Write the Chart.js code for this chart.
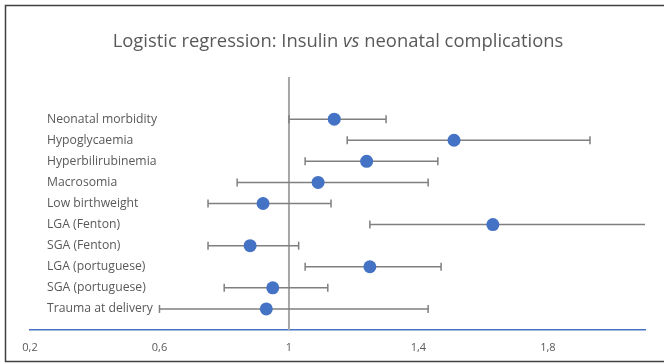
<!DOCTYPE html>
<html>
<head>
<meta charset="utf-8">
<script src="https://cdn.jsdelivr.net/npm/chart.js@4/dist/chart.umd.min.js"></script>
<style>
  html, body { margin: 0; padding: 0; background: #fff; }
  canvas { display: block; }
</style>
</head>
<body>
<canvas id="chart" width="664" height="363"></canvas>
<script>
// outcomes, top to bottom
const OUTCOMES = [
  "Neonatal morbidity", "Hypoglycaemia", "Hyperbilirubinemia", "Macrosomia",
  "Low birthweight", "LGA (Fenton)", "SGA (Fenton)", "LGA (portuguese)",
  "SGA (portuguese)", "Trauma at delivery",
];
const ROW_Y     = [10, 9, 8, 7, 6, 5, 4, 3, 2, 1];
const ODDS      = [1.14, 1.51, 1.24, 1.09, 0.92, 1.63, 0.88, 1.25, 0.95, 0.93];
const CI_LOW    = [1.00, 1.18, 1.05, 0.84, 0.75, 1.25, 0.75, 1.05, 0.80, 0.60];
const CI_HIGH   = [1.30, 1.93, 1.46, 1.43, 1.13, 2.20, 1.03, 1.47, 1.12, 1.43];
const X_TICKS   = [0.2, 0.6, 1, 1.4, 1.8];
const X_LABELS  = ["0,2", "0,6", "1", "1,4", "1,8"];

const TEXT_COLOR = "#595959";
const DOT_COLOR  = "#4472C4";
const BAR_COLOR  = "#7f7f7f";
const FONT       = "'Open Sans', sans-serif";

const framePlugin = {
  id: "frame",
  beforeDraw(chart) {
    const ctx = chart.ctx;
    ctx.save();
    ctx.strokeStyle = "#404040";
    ctx.lineWidth = 1.5;
    ctx.strokeRect(5.5, 5.5, 720, 356);
    ctx.restore();
  },
};

// title with italic "vs"
const titlePlugin = {
  id: "mixedTitle",
  afterDraw(chart) {
    const ctx = chart.ctx;
    const parts = [
      ["Logistic regression: Insulin ", "normal"],
      ["vs", "italic"],
      [" neonatal complications", "normal"],
    ];
    ctx.save();
    ctx.fillStyle = TEXT_COLOR;
    ctx.textBaseline = "middle";
    ctx.textAlign = "left";
    const widths = parts.map(([t, s]) => {
      ctx.font = `${s} 18.4px ${FONT}`;
      return ctx.measureText(t).width;
    });
    const total = widths.reduce((a, b) => a + b, 0);
    let x = 338 - total / 2;
    parts.forEach(([t, s], i) => {
      ctx.font = `${s} 18.4px ${FONT}`;
      ctx.fillText(t, x, 42);
      x += widths[i];
    });
    ctx.restore();
  },
};

const datasets = [
  {
    label: "Odds ratio",
    data: ODDS.map((v, i) => ({ x: v, y: ROW_Y[i] })),
    pointRadius: 6.5,
    pointBackgroundColor: DOT_COLOR,
    pointBorderColor: DOT_COLOR,
    pointBorderWidth: 0,
    showLine: false,
  },
  ...CI_LOW.map((lo, i) => ({
    label: OUTCOMES[i] + " CI",
    data: [{ x: lo, y: ROW_Y[i] }, { x: CI_HIGH[i], y: ROW_Y[i] }],
    showLine: true,
    borderColor: BAR_COLOR,
    borderWidth: 1.5,
    pointStyle: "line",
    rotation: 90,
    pointRadius: 4,
    pointBorderWidth: 1.5,
    pointBorderColor: BAR_COLOR,
  })),
  {
    label: "Reference",
    data: [{ x: 1, y: 0 }, { x: 1, y: 12 }],
    showLine: true,
    borderColor: "#a6a6a6",
    borderWidth: 2,
    pointRadius: 0,
  },
];

new Chart(document.getElementById("chart"), {
  type: "scatter",
  data: { datasets },
  plugins: [framePlugin, titlePlugin],
  options: {
    responsive: false,
    animation: false,
    layout: { padding: { left: 30, right: 19, top: 77, bottom: 8 } },
    plugins: { legend: { display: false }, tooltip: { enabled: false } },
    scales: {
      x: {
        type: "linear",
        min: 0.2,
        max: 2.1,
        grid: { display: false, drawTicks: false },
        border: { color: DOT_COLOR, width: 1.5 },
        afterBuildTicks: s => { s.ticks = X_TICKS.map(v => ({ value: v })); },
        afterFit: s => { s.height = 25; },
        ticks: {
          color: TEXT_COLOR,
          padding: 11,
          font: { family: FONT, size: 11 },
          callback: v => X_LABELS[X_TICKS.indexOf(v)],
        },
      },
      y: {
        type: "linear",
        min: 0,
        max: 12,
        grid: { display: false, drawTicks: false },
        border: { display: false },
        afterBuildTicks: s => { s.ticks = ROW_Y.map(v => ({ value: v })); },
        afterFit: s => { s.width = 0; },
        ticks: {
          mirror: true,
          padding: 17,
          color: TEXT_COLOR,
          font: { family: FONT, size: 12.2 },
          callback: v => OUTCOMES[ROW_Y.indexOf(v)],
        },
      },
    },
  },
});
</script>
</body>
</html>
